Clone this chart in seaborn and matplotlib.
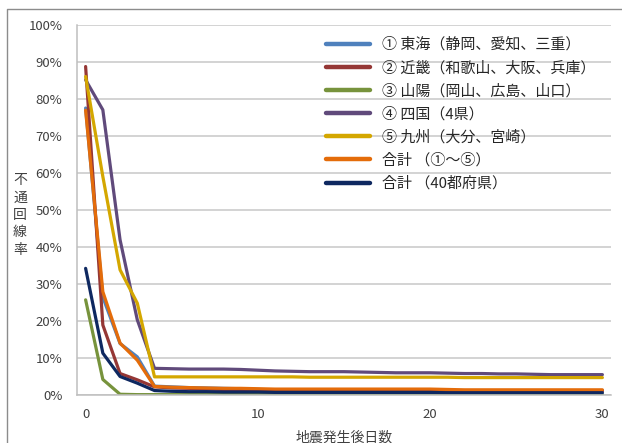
import pandas as pd
import matplotlib.pyplot as plt
import seaborn as sns
from matplotlib.lines import Line2D
from matplotlib.ticker import MultipleLocator, FuncFormatter

# days after the earthquake
days = list(range(31))

tokai = [77.5, 26.4, 13.9, 10.3, 2.4, 2.2, 2.0, 1.9, 1.8, 1.7, 1.5, 1.4, 1.4, 1.4, 1.4, 1.4,
         1.3, 1.3, 1.3, 1.3, 1.3, 1.2, 1.2, 1.2, 1.2, 1.2, 1.2, 1.2, 1.2, 1.2, 1.2]
kinki = [88.7, 18.9, 5.8, 4.1, 2.2, 1.9, 1.8, 1.6, 1.5, 1.4, 1.3, 1.3, 1.2, 1.2, 1.2, 1.2,
         1.2, 1.2, 1.2, 1.1, 1.1, 1.1, 1.1, 1.1, 1.1, 1.1, 1.1, 1.1, 1.1, 1.1, 1.1]
sanyo = [25.7, 4.2, 0.2, 0.1, 0.1, 0.1, 0.1, 0.1, 0.1, 0.1, 0.1, 0.1, 0.1, 0.1, 0.1, 0.1,
         0.1, 0.1, 0.1, 0.1, 0.1, 0.1, 0.1, 0.1, 0.1, 0.1, 0.1, 0.1, 0.1, 0.1, 0.1]
shikoku = [85.1, 77.0, 41.9, 20.3, 7.2, 7.1, 7.0, 7.0, 7.0, 6.9, 6.7, 6.5, 6.4, 6.3, 6.3, 6.3,
           6.2, 6.1, 6.0, 6.0, 6.0, 5.9, 5.8, 5.8, 5.7, 5.7, 5.6, 5.5, 5.5, 5.5, 5.5]
kyushu = [86.0, 59.0, 33.8, 24.8, 4.9, 4.9, 4.9, 4.9, 4.9, 4.9, 4.9, 4.9, 4.9, 4.8, 4.8, 4.8,
          4.8, 4.8, 4.8, 4.8, 4.8, 4.8, 4.7, 4.7, 4.7, 4.7, 4.7, 4.7, 4.7, 4.7, 4.7]
total5 = [76.9, 27.9, 14.0, 9.4, 2.3, 2.1, 2.0, 1.9, 1.8, 1.8, 1.7, 1.6, 1.6, 1.6, 1.6, 1.6,
          1.6, 1.6, 1.6, 1.6, 1.6, 1.5, 1.4, 1.4, 1.4, 1.4, 1.4, 1.4, 1.4, 1.4, 1.4]
total40 = [34.2, 11.3, 5.0, 3.2, 1.2, 1.0, 0.9, 0.9, 0.8, 0.8, 0.8, 0.7, 0.7, 0.7, 0.7, 0.7,
           0.7, 0.7, 0.7, 0.7, 0.7, 0.6, 0.6, 0.6, 0.6, 0.6, 0.6, 0.6, 0.6, 0.6, 0.6]

labels = ["① 東海（静岡、愛知、三重）", "② 近畿（和歌山、大阪、兵庫）", "③ 山陽（岡山、広島、山口）",
          "④ 四国（4県）", "⑤ 九州（大分、宮崎）", "合計 （①～⑤）", "合計 （40都府県）"]
colors = ["#4F81BD", "#953735", "#77933C", "#604A7B", "#D4A700", "#E46C0A", "#0E2860"]

sns.set_style("white")
plt.rcParams['font.family'] = ['Noto Sans CJK JP', 'DejaVu Sans']

rows = []
for name, vals in zip(labels, [tokai, kinki, sanyo, shikoku, kyushu, total5, total40]):
    for d, v in zip(days, vals):
        rows.append({"day": d, "rate": v, "series": name})
df = pd.DataFrame(rows)

fig = plt.figure(figsize=(6.22, 4.43), dpi=100)
ax = fig.add_axes([77 / 622, 1 - 395 / 443, (611 - 77) / 622, (395 - 24.7) / 443])

sns.lineplot(data=df, x="day", y="rate", hue="series", hue_order=labels,
             palette=dict(zip(labels, colors)), linewidth=2.3, ax=ax, legend=False)

ax.set_xlim(-0.5, 30.5)
ax.set_ylim(0, 100)
ax.yaxis.set_major_locator(MultipleLocator(10))
ax.yaxis.set_major_formatter(FuncFormatter(lambda v, p: f"{v:.0f}%"))
ax.set_xticks([0, 10, 20, 30])
ax.set_xticks([k + 0.5 for k in range(-1, 31)], minor=True)
ax.tick_params(axis='x', which='major', length=0, pad=9, labelsize=9.5, labelcolor='#404040')
ax.tick_params(axis='x', which='minor', length=3.5, width=1, color='#BFBFBF', direction='out')
ax.tick_params(axis='y', which='major', length=3.5, width=1, color='#BFBFBF', direction='out',
               pad=7, labelsize=9.5, labelcolor='#404040')
ax.grid(axis='y', color='#C8C8C8', linewidth=1.1)
ax.set_axisbelow(True)
for s in ['top', 'right']:
    ax.spines[s].set_visible(False)
for s in ['left', 'bottom']:
    ax.spines[s].set_color('#BFBFBF')
    ax.spines[s].set_linewidth(1.1)

ax.set_xlabel("地震発生後日数", fontsize=10, color='#404040', labelpad=7)
ax.set_ylabel("")
fig.text(20 / 622, 1 - 215 / 443, "\n".join("不通回線率"), fontsize=10, color='#404040',
         ha='center', va='center', linespacing=1.3)

handles = [Line2D([], [], color=c, linewidth=3.2) for c in colors]
ax.legend(handles, labels, loc='upper left', bbox_to_anchor=(318 / 622, 1 - 30 / 443),
          bbox_transform=fig.transFigure, frameon=False, fontsize=10.8,
          handlelength=2.95, handletextpad=0.8, labelspacing=0.58, borderpad=0)

# outer chart-area border (only left and top visible)
fig.add_artist(Line2D([7 / 622, 7 / 622, 1.0], [0.0, 1 - 9 / 443, 1 - 9 / 443],
                      transform=fig.transFigure, color='#8C8C8C', linewidth=1))

fig.savefig("out.png", dpi=100)
